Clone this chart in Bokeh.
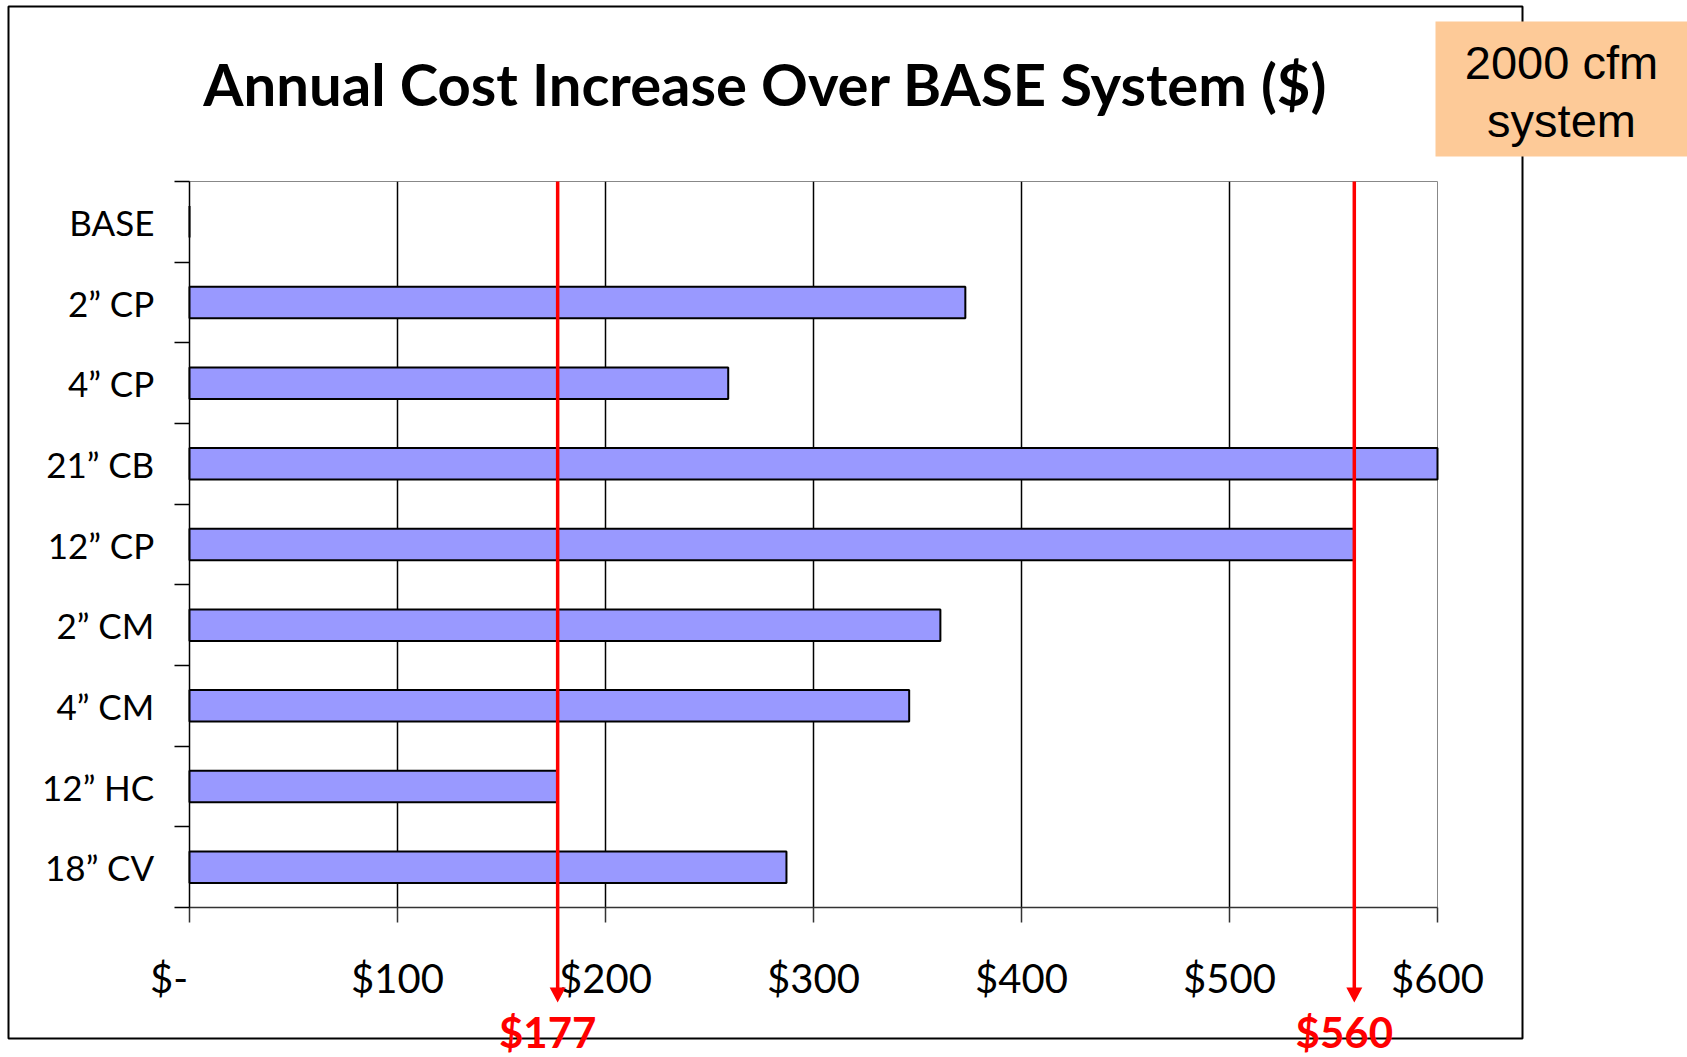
from bokeh.plotting import figure
from bokeh.models import Range1d, FixedTicker
from bokeh.embed import file_html
from bokeh.resources import INLINE
from bokeh.core.properties import value

# ---- data ----
categories = ["BASE", "2\u201d CP", "4\u201d CP", "21\u201d CB", "12\u201d CP",
              "2\u201d CM", "4\u201d CM", "12\u201d HC", "18\u201d CV"]
costs = [0, 373, 259, 602, 560, 361, 346, 177, 287]
x_ticks = [0, 100, 200, 300, 400, 500, 600]
x_tick_labels = ["$-\u00a0\u00a0\u00a0\u00a0", "$100", "$200", "$300", "$400", "$500", "$600"]
markers = [177, 560]
marker_labels = ["$177", "$560"]
title_text = "Annual Cost Increase Over BASE System ($)"
note_lines = ["2000 cfm", "system"]

# ---- layout (canvas pixels) ----
W, H = 1687, 1057
FL, FT, FW, FH = 189, 181, 1248, 726
X0, X1 = 0, 600
n = len(categories)


def dx(px):
    return X0 + (px - FL) * (X1 - X0) / FW


def dy(py):
    return n - (py - FT) * n / FH


p = figure(width=W, height=H, x_range=Range1d(X0, X1), y_range=Range1d(0, n),
           output_backend="svg", toolbar_location=None,
           min_border_left=FL, min_border_right=W - FL - FW,
           min_border_top=FT, min_border_bottom=H - FT - FH)
p.background_fill_color = "white"
p.border_fill_color = "white"
p.outline_line_color = "#888888"
p.outline_line_width = 1

ys = [n - 0.5 - i for i in range(n)]
LV = "annotation"   # drawn without the frame clip

# grid
p.ygrid.visible = False
p.xgrid.ticker = FixedTicker(ticks=x_ticks)
p.xgrid.grid_line_color = "black"
p.xgrid.grid_line_width = 1.5

# bars
p.hbar(y=ys, left=0, right=costs, height=0.39, fill_color="#9999FF",
       line_color="black", line_width=2, level=LV)

# x axis
xa = p.xaxis[0]
xa.ticker = FixedTicker(ticks=x_ticks)
xa.major_label_overrides = dict(zip(x_ticks, x_tick_labels))
xa.major_tick_out = 15
xa.major_tick_in = 0
xa.minor_tick_out = 0
xa.minor_tick_in = 0
xa.axis_line_color = "#333333"
xa.axis_line_width = 1.5
xa.major_tick_line_color = "#333333"
xa.major_tick_line_width = 1.5
xa.major_label_text_font = "Lato"
xa.major_label_text_font_size = "40px"
xa.major_label_text_color = "black"
xa.major_label_standoff = 31

# y axis
ya = p.yaxis[0]
ya.ticker = FixedTicker(ticks=ys, minor_ticks=list(range(n + 1)))
ya.major_label_overrides = dict(zip(ys, categories))
ya.major_tick_out = 0
ya.major_tick_in = 0
ya.minor_tick_out = 15
ya.minor_tick_in = 0
ya.minor_tick_line_color = "black"
ya.minor_tick_line_width = 1.5
ya.axis_line_color = "black"
ya.axis_line_width = 1.5
ya.major_label_text_font = "Lato"
ya.major_label_text_font_size = "35px"
ya.major_label_text_color = "black"
ya.major_label_standoff = 20

# outer chart box
p.quad(left=[dx(8)], right=[dx(1522)], top=[dy(6)], bottom=[dy(1038)],
       fill_alpha=0, line_color="black", line_width=2, level=LV)

# title
p.text(x=[dx(765)], y=[dy(83)], text=[title_text], text_align="center",
       text_baseline="middle", text_font=value("Lato"), text_font_style="bold",
       text_font_size="58px", text_color="black", level=LV)

# red marker lines, arrow heads and labels
head_top, head_tip, spike = 987, 1002, 890
hw = 8 * (X1 - X0) / FW
p.segment(x0=markers, y0=[n] * len(markers), x1=markers, y1=[dy(head_top + 2)] * len(markers),
          line_color="red", line_width=3.5, level=LV)
p.patches(xs=[[m, m - hw, m, m, m, m + hw] for m in markers],
          ys=[[dy(head_tip), dy(head_top), dy(head_top), dy(spike), dy(head_top), dy(head_top)]
              for _ in markers],
          fill_color="red", line_alpha=0, level=LV)
p.text(x=markers, y=[dy(1056)] * len(markers), text=marker_labels, text_align="center",
       text_baseline="bottom", x_offset=-10, text_font=value("Lato"),
       text_font_style="bold", text_font_size="42px", text_color="red", level=LV)

# note box
p.quad(left=[dx(1435)], right=[dx(1690)], top=[dy(21)], bottom=[dy(156)],
       fill_color="#FDCA98", line_alpha=0, level=LV)
p.text(x=[dx(1561)] * len(note_lines), y=[dy(62), dy(120)], text=note_lines,
       text_align="center", text_baseline="middle",
       text_font=value("Liberation Sans"), text_font_size="47px",
       text_color="black", level=LV)

open("out.html", "w").write(file_html(p, INLINE))
